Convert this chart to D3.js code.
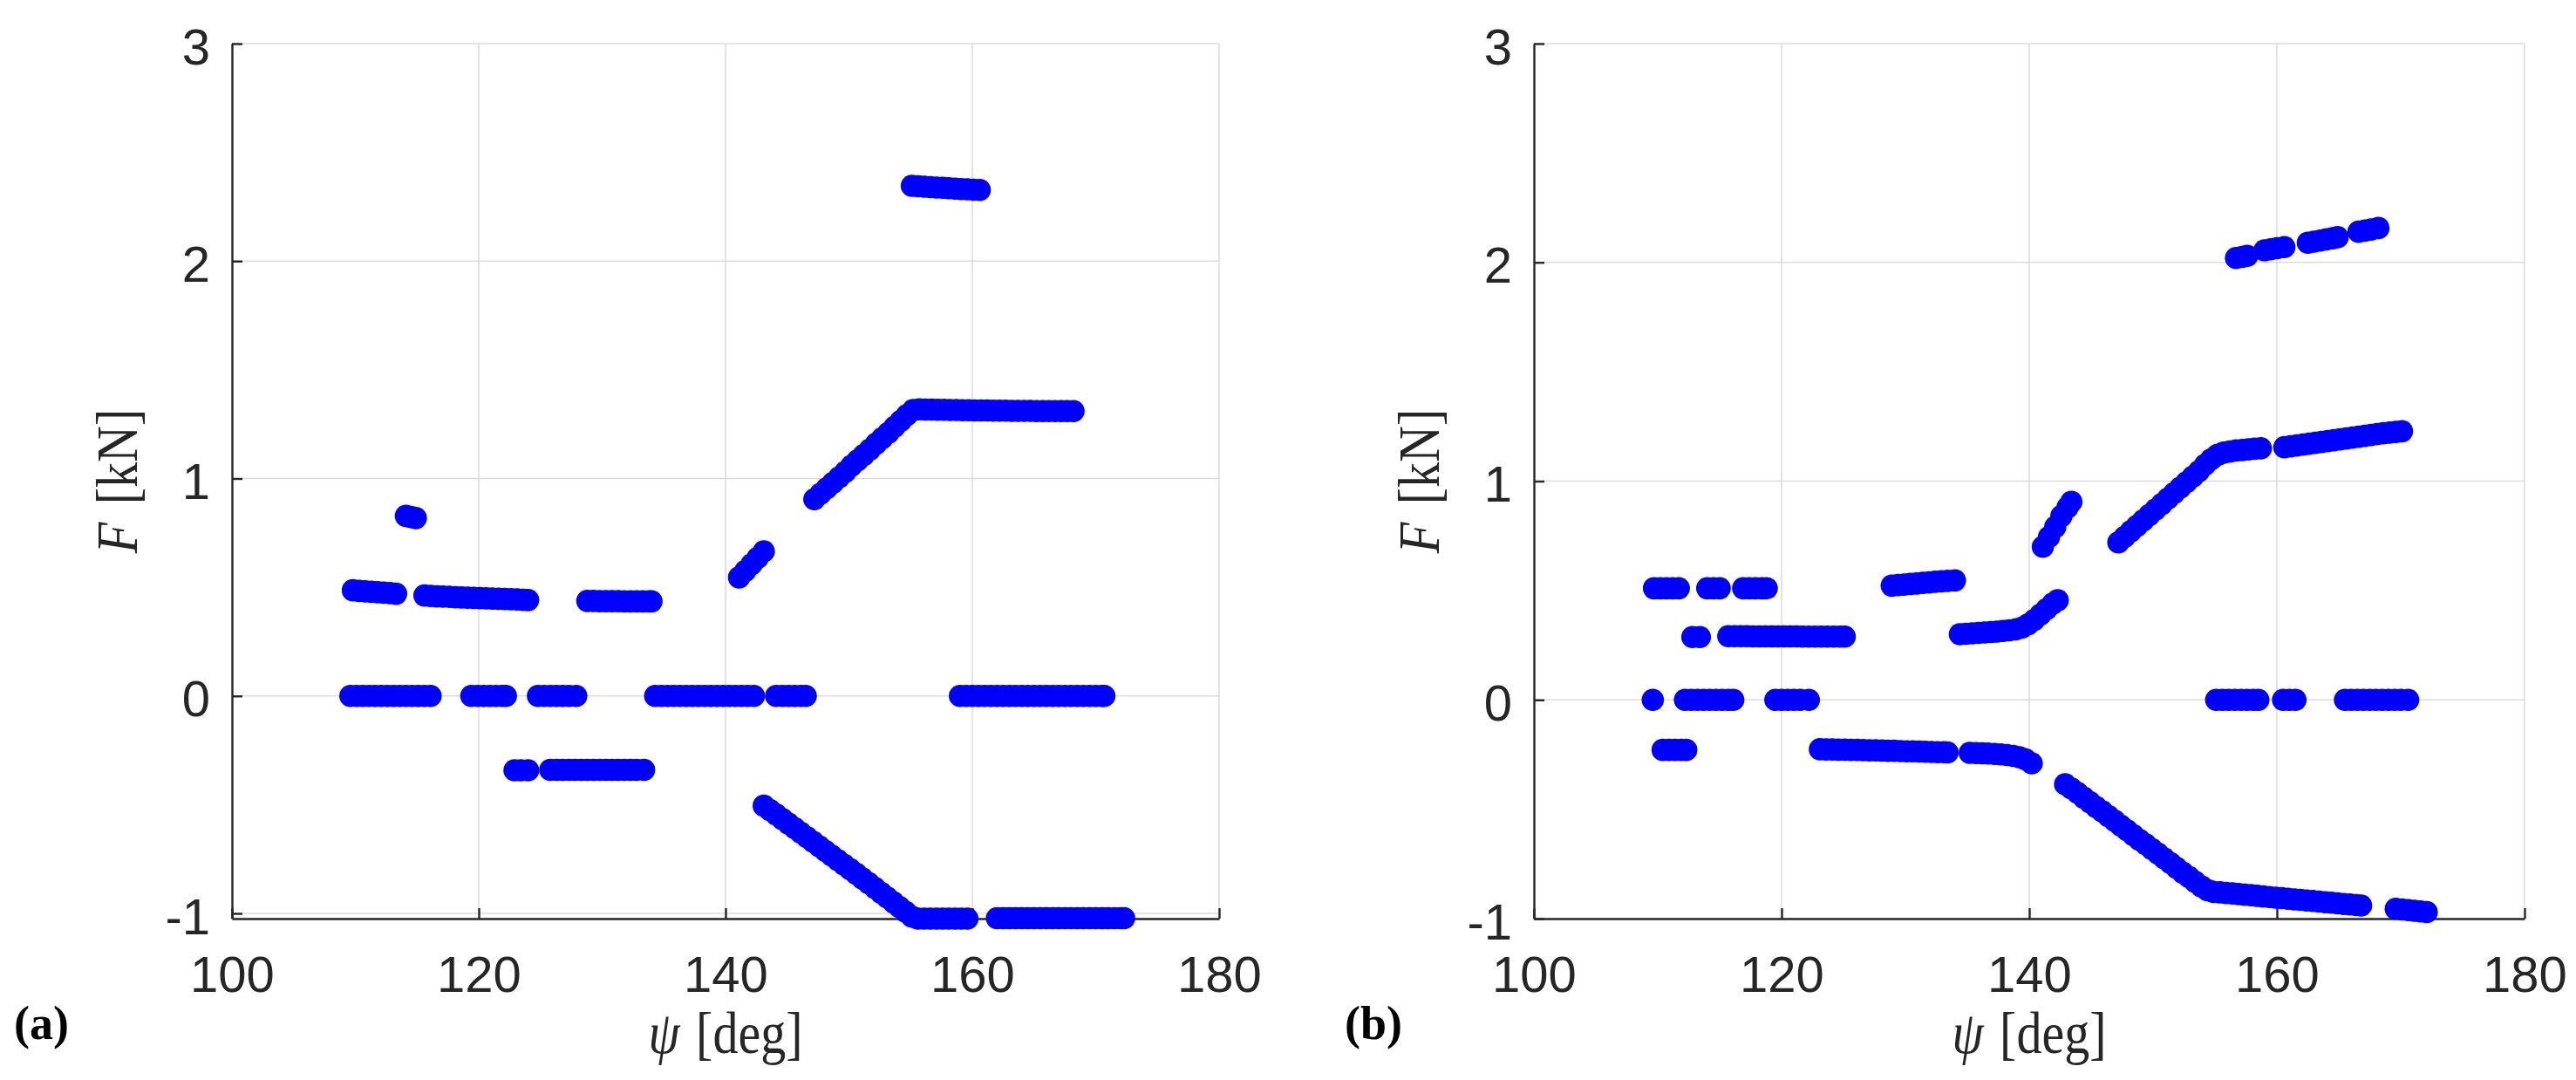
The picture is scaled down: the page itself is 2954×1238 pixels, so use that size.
<!DOCTYPE html>
<html><head><meta charset="utf-8">
<script src="https://cdn.jsdelivr.net/npm/d3@7"></script>
<style>html,body{margin:0;padding:0;background:#fff;} svg{display:block;}</style>
</head><body>
<svg id="chart" width="2954" height="1238"></svg>
<script>
// ---------- tick values / labels ----------
const xTicks = [100, 120, 140, 160, 180];
const yTicks = [-1, 0, 1, 2, 3];
const xTickLabels = ["100", "120", "140", "160", "180"];
const yTickLabels = ["-1", "0", "1", "2", "3"];
const panelLabels = ["(a)", "(b)"];

// ---------- panel (a) data: [psi (deg), F (kN)] ----------
const aZero = [
  [109.6,0],[110.1,0],[110.6,0],[111.1,0],[111.6,0],[112.1,0],[112.6,0],[113.1,0],[113.6,0],[114.1,0],[114.6,0],[115.1,0],[115.6,0],[116.1,0],
  [119.4,0],[119.9,0],[120.4,0],[120.9,0],[121.4,0],[121.9,0],[122.2,0],
  [124.8,0],[125.3,0],[125.8,0],[126.3,0],[126.8,0],[127.3,0],[127.9,0],
  [134.3,0],[134.8,0],[135.3,0],[135.8,0],[136.3,0],[136.8,0],[137.3,0],[137.8,0],[138.3,0],[138.8,0],[139.3,0],[139.8,0],[140.3,0],[140.8,0],[141.3,0],[141.8,0],[142.3,0],
  [144.1,0],[144.6,0],[145.1,0],[145.6,0],[146.1,0],[146.5,0],
  [159.0,0],[159.5,0],[160.0,0],[160.5,0],[161.0,0],[161.5,0],[162.0,0],[162.5,0],[163.0,0],[163.5,0],[164.0,0],[164.5,0],[165.0,0],[165.5,0],[166.0,0],[166.5,0],[167.0,0],[167.5,0],[168.0,0],[168.5,0],[169.0,0],[169.5,0],[170.0,0],[170.5,0],[170.7,0]
];
const aUpperLeft = [
  [109.8,0.486],[110.3,0.483],[110.8,0.481],[111.3,0.479],[111.8,0.477],[112.3,0.475],[112.8,0.473],[113.3,0.470],
  [115.6,0.462],[116.1,0.460],[116.6,0.458],[117.1,0.457],[117.6,0.456],[118.1,0.454],[118.6,0.453],[119.1,0.452],[119.6,0.451],[120.1,0.450],[120.6,0.449],[121.1,0.448],[121.6,0.447],[122.1,0.446],[122.6,0.445],[123.1,0.444],[123.6,0.442],[124.0,0.441]
];
const aMid044 = [
  [128.8,0.437],[129.3,0.437],[129.8,0.436],[130.3,0.436],[130.8,0.436],[131.3,0.436],[131.8,0.435],[132.3,0.435],[132.8,0.435],[133.3,0.435],[133.8,0.435],[134.0,0.435]
];
const aIsolated082 = [[114.1,0.828],[114.5,0.823],[114.9,0.818]];
const aNeg034 = [
  [122.9,-0.342],[123.4,-0.342],[124.0,-0.342],
  [125.8,-0.340],[126.3,-0.340],[126.8,-0.340],[127.3,-0.340],[127.8,-0.340],[128.3,-0.340],[128.8,-0.340],[129.3,-0.340],[129.8,-0.340],[130.3,-0.340],[130.8,-0.340],[131.3,-0.340],[131.8,-0.340],[132.3,-0.340],[132.8,-0.340],[133.4,-0.340]
];
const aRiseShort = [[141.1,0.545],[141.6,0.575],[142.1,0.605],[142.6,0.635],[143.1,0.665]];
const aUpperRight = [
  [147.2,0.905],[147.7,0.930],[148.2,0.955],[148.7,0.980],[149.2,1.005],[149.7,1.030],[150.2,1.058],[150.7,1.083],[151.2,1.108],[151.7,1.133],[152.2,1.160],[152.7,1.185],[153.2,1.210],[153.7,1.238],[154.2,1.265],[154.7,1.292],[155.2,1.315],
  [155.7,1.318],[156.2,1.317],[156.7,1.317],[157.2,1.316],[157.7,1.316],[158.2,1.315],[158.7,1.315],[159.2,1.314],[159.7,1.314],[160.2,1.313],[160.7,1.313],[161.2,1.313],[161.7,1.312],[162.2,1.312],[162.7,1.312],[163.2,1.311],[163.7,1.311],[164.2,1.311],[164.7,1.311],[165.2,1.310],[165.7,1.310],[166.2,1.310],[166.7,1.310],[167.2,1.310],[167.7,1.310],[168.2,1.310]
];
const aTop233 = [
  [155.1,2.346],[155.6,2.344],[156.1,2.342],[156.6,2.340],[157.1,2.338],[157.6,2.337],[158.1,2.335],[158.6,2.333],[159.1,2.331],[159.6,2.330],[160.1,2.328],[160.6,2.327]
];
const aLowerRight = [
  [143.1,-0.505],[143.6,-0.525],[144.1,-0.545],[144.6,-0.566],[145.1,-0.587],[145.6,-0.608],[146.1,-0.629],[146.6,-0.650],[147.1,-0.671],[147.6,-0.692],[148.1,-0.713],[148.6,-0.734],[149.1,-0.755],[149.6,-0.776],[150.1,-0.797],[150.6,-0.818],[151.1,-0.840],[151.6,-0.861],[152.1,-0.883],[152.6,-0.905],[153.1,-0.927],[153.6,-0.949],[154.1,-0.971],[154.6,-0.993],[155.1,-1.015],
  [155.6,-1.024],[156.1,-1.024],[156.6,-1.024],[157.1,-1.024],[157.6,-1.024],[158.1,-1.024],[158.6,-1.024],[159.1,-1.024],[159.6,-1.024],
  [162.0,-1.022],[162.5,-1.022],[163.0,-1.022],[163.5,-1.022],[164.0,-1.022],[164.5,-1.022],[165.0,-1.022],[165.5,-1.022],[166.0,-1.022],[166.5,-1.022],[167.0,-1.022],[167.5,-1.022],[168.0,-1.022],[168.5,-1.022],[169.0,-1.022],[169.5,-1.022],[170.0,-1.022],[170.5,-1.022],[171.0,-1.022],[171.5,-1.022],[172.0,-1.022],[172.3,-1.022]
];

// ---------- panel (b) data: [psi (deg), F (kN)] ----------
const bZero = [
  [109.6,0],
  [112.2,0],[112.7,0],[113.2,0],[113.7,0],[114.2,0],[114.7,0],[115.2,0],[115.7,0],[116.1,0],
  [119.5,0],[120.0,0],[120.5,0],[121.0,0],[121.5,0],[122.2,0],
  [155.1,0],[155.6,0],[156.1,0],[156.6,0],[157.1,0],[157.6,0],[158.1,0],[158.5,0],
  [160.5,0],[161.0,0],[161.5,0],
  [165.5,0],[166.0,0],[166.5,0],[167.0,0],[167.5,0],[168.0,0],[168.5,0],[169.0,0],[169.5,0],[170.0,0],[170.6,0]
];
const bUpper051 = [
  [109.7,0.51],[110.2,0.51],[110.7,0.51],[111.2,0.51],[111.7,0.51],
  [114.0,0.51],[114.5,0.51],[115.0,0.51],
  [116.9,0.51],[117.4,0.51],[117.9,0.51],[118.4,0.51],[118.8,0.51]
];
const bMid029 = [
  [112.8,0.287],[113.4,0.287],
  [115.7,0.291],[116.2,0.291],[116.7,0.291],[117.2,0.291],[117.7,0.290],[118.2,0.290],[118.7,0.290],[119.2,0.290],[119.7,0.290],[120.2,0.290],[120.7,0.290],[121.2,0.290],[121.7,0.289],[122.2,0.289],[122.7,0.289],[123.2,0.289],[123.7,0.289],[124.2,0.289],[124.7,0.289],[125.1,0.289]
];
const bMid053 = [
  [128.9,0.522],[129.4,0.525],[129.9,0.527],[130.4,0.530],[130.9,0.532],[131.4,0.535],[131.9,0.537],[132.4,0.540],[132.9,0.542],[133.4,0.544],[134.0,0.546]
];
const bMid030 = [
  [134.4,0.300],[134.9,0.302],[135.4,0.304],[135.9,0.306],[136.4,0.308],[136.9,0.310],[137.4,0.312],[137.9,0.315],[138.4,0.318],[138.9,0.322],[139.4,0.330],[139.9,0.345],[140.4,0.365],[140.9,0.390],[141.4,0.415],[141.9,0.440],[142.3,0.455]
];
const bRiseShort = [[141.1,0.700],[141.6,0.745],[142.1,0.790],[142.6,0.840],[143.1,0.880],[143.4,0.905]];
const bUpperRight = [
  [147.2,0.720],[147.7,0.745],[148.2,0.770],[148.7,0.795],[149.2,0.820],[149.7,0.845],[150.2,0.870],[150.7,0.895],[151.2,0.920],[151.7,0.945],[152.2,0.970],[152.7,0.995],[153.2,1.020],[153.7,1.045],[154.2,1.075],[154.7,1.100],[155.2,1.120],
  [155.7,1.130],[156.2,1.135],[156.7,1.140],[157.2,1.142],[157.7,1.145],[158.2,1.148],[158.7,1.150],
  [160.6,1.155],[161.1,1.159],[161.6,1.163],[162.1,1.167],[162.6,1.171],[163.1,1.175],[163.6,1.179],[164.1,1.183],[164.6,1.187],[165.1,1.191],[165.6,1.195],[166.1,1.199],[166.6,1.203],[167.1,1.207],[167.6,1.211],[168.1,1.215],[168.6,1.219],[169.1,1.222],[169.6,1.225],[170.1,1.228]
];
const bTop202 = [
  [156.7,2.020],[157.2,2.025],[157.6,2.030],
  [159.0,2.055],[159.5,2.060],[160.0,2.065],[160.6,2.070],
  [162.5,2.090],[163.0,2.095],[163.5,2.100],[164.0,2.105],[164.5,2.110],[164.9,2.115],
  [166.6,2.140],[167.1,2.145],[167.6,2.150],[168.2,2.157]
];
const bNeg023 = [
  [110.4,-0.229],[110.9,-0.229],[111.4,-0.229],[111.9,-0.229],[112.3,-0.229],
  [123.1,-0.226],[123.6,-0.227],[124.1,-0.227],[124.6,-0.228],[125.1,-0.228],[125.6,-0.229],[126.1,-0.229],[126.6,-0.230],[127.1,-0.231],[127.6,-0.231],[128.1,-0.232],[128.6,-0.233],[129.1,-0.233],[129.6,-0.234],[130.1,-0.235],[130.6,-0.235],[131.1,-0.236],[131.6,-0.237],[132.1,-0.238],[132.6,-0.239],[133.1,-0.239],[133.4,-0.240],
  [135.2,-0.242],[135.7,-0.243],[136.2,-0.244],[136.7,-0.245],[137.2,-0.247],[137.7,-0.249],[138.2,-0.252],[138.7,-0.256],[139.2,-0.262],[139.7,-0.272],[140.2,-0.290]
];
const bLowerRight = [
  [142.9,-0.386],[143.4,-0.405],[143.9,-0.425],[144.4,-0.447],[144.9,-0.468],[145.4,-0.490],[145.9,-0.510],[146.4,-0.532],[146.9,-0.553],[147.4,-0.575],[147.9,-0.596],[148.4,-0.618],[148.9,-0.640],[149.4,-0.660],[149.9,-0.682],[150.4,-0.703],[150.9,-0.725],[151.4,-0.746],[151.9,-0.768],[152.4,-0.790],[152.9,-0.810],[153.4,-0.832],[153.9,-0.853],[154.4,-0.870],[154.9,-0.878],
  [155.4,-0.880],[155.9,-0.883],[156.4,-0.885],[156.9,-0.888],[157.4,-0.891],[157.9,-0.893],[158.4,-0.896],[158.9,-0.899],[159.4,-0.901],[159.9,-0.904],[160.4,-0.906],[160.9,-0.909],[161.4,-0.912],[161.9,-0.914],[162.4,-0.917],[162.9,-0.919],[163.4,-0.922],[163.9,-0.925],[164.4,-0.927],[164.9,-0.930],[165.4,-0.933],[165.9,-0.935],[166.4,-0.938],[166.8,-0.940],
  [169.6,-0.955],[170.1,-0.958],[170.6,-0.961],[171.1,-0.964],[171.6,-0.967],[172.1,-0.970]
];

const dataA = [].concat(aZero, aUpperLeft, aMid044, aIsolated082, aNeg034, aRiseShort, aUpperRight, aTop233, aLowerRight);
const dataB = [].concat(bZero, bUpper051, bMid029, bMid053, bMid030, bRiseShort, bUpperRight, bTop202, bNeg023, bLowerRight);

// ---------- layout ----------
const layout = [
  {left: 266, right: 1398, top: 50, bottom: 1053, yMin: -1.024, label: panelLabels[0], labelX: 16, data: dataA},
  {left: 1759, right: 2895, top: 50, bottom: 1053, yMin: -1.0, label: panelLabels[1], labelX: 1542, data: dataB}
];

const svg = d3.select("#chart");
svg.append("rect").attr("width", 2954).attr("height", 1238).attr("fill", "#fff");

const axisColor = "#262626";
const gridColor = "#dcdcdc";
const tickFont = "'Liberation Sans', Arial, Helvetica, sans-serif";
const serifFont = "'Liberation Serif', 'Times New Roman', serif";

layout.forEach(p => {
  const x = d3.scaleLinear().domain([100, 180]).range([p.left, p.right]);
  const y = d3.scaleLinear().domain([p.yMin, 3]).range([p.bottom, p.top]);
  const g = svg.append("g");

  // grid
  const grid = g.append("g");
  grid.selectAll("line.gx").data(xTicks.filter(v => v > 100)).join("line")
    .attr("x1", d => x(d)).attr("x2", d => x(d))
    .attr("y1", p.top).attr("y2", p.bottom)
    .attr("stroke", gridColor).attr("stroke-width", 1.6);
  grid.selectAll("line.gy").data(yTicks.filter(v => y(v) < p.bottom - 1)).join("line")
    .attr("x1", p.left).attr("x2", p.right)
    .attr("y1", d => y(d)).attr("y2", d => y(d))
    .attr("stroke", gridColor).attr("stroke-width", 1.6);

  // axes
  const xAxis = d3.axisBottom(x).tickValues(xTicks)
    .tickFormat((d, i) => xTickLabels[i]).tickSizeInner(-12).tickSizeOuter(0).tickPadding(43);
  const yAxis = d3.axisLeft(y).tickValues(yTicks)
    .tickFormat((d, i) => yTickLabels[i]).tickSizeInner(-12).tickSizeOuter(0).tickPadding(25);

  const gx = g.append("g").attr("transform", `translate(0,${p.bottom})`).call(xAxis);
  const gy = g.append("g").attr("transform", `translate(${p.left},0)`).call(yAxis);
  [gx, gy].forEach(a => {
    a.select(".domain").attr("stroke", axisColor).attr("stroke-width", 2.4);
    a.selectAll(".tick line").attr("stroke", axisColor).attr("stroke-width", 2.4);
    a.selectAll(".tick text").attr("fill", axisColor)
      .style("font-family", tickFont).style("font-size", "58px");
  });
  gx.selectAll(".tick text").attr("dy", "0.71em");
  gy.selectAll(".tick text").attr("dy", "0.40em");

  // data markers
  g.append("g").selectAll("circle").data(p.data).join("circle")
    .attr("cx", d => x(d[0])).attr("cy", d => y(d[1]))
    .attr("r", 12.8).attr("fill", "#0000ff");

  // x label
  const cx = (p.left + p.right) / 2;
  const xl = g.append("text")
    .attr("transform", `translate(${cx},1207) scale(1,1.18)`)
    .attr("text-anchor", "middle").attr("fill", axisColor)
    .style("font-family", serifFont).style("font-size", "58px");
  xl.append("tspan").style("font-style", "italic").text("ψ");
  xl.append("tspan").attr("dx", 4).text(" [deg]");

  // y label
  const cy = (p.top + p.bottom) / 2;
  const yl = g.append("text")
    .attr("transform", `translate(${p.left - 109},${cy}) rotate(-90) scale(1,1.18)`)
    .attr("text-anchor", "middle").attr("fill", axisColor)
    .style("font-family", serifFont).style("font-size", "58px");
  yl.append("tspan").style("font-style", "italic").text("F");
  yl.append("tspan").attr("dx", 6).text(" [kN]");

  // panel label
  g.append("text").attr("x", p.labelX).attr("y", 1191)
    .attr("fill", "#000")
    .style("font-family", serifFont).style("font-weight", "bold").style("font-size", "54px")
    .text(p.label);
});
</script>
</body></html>
